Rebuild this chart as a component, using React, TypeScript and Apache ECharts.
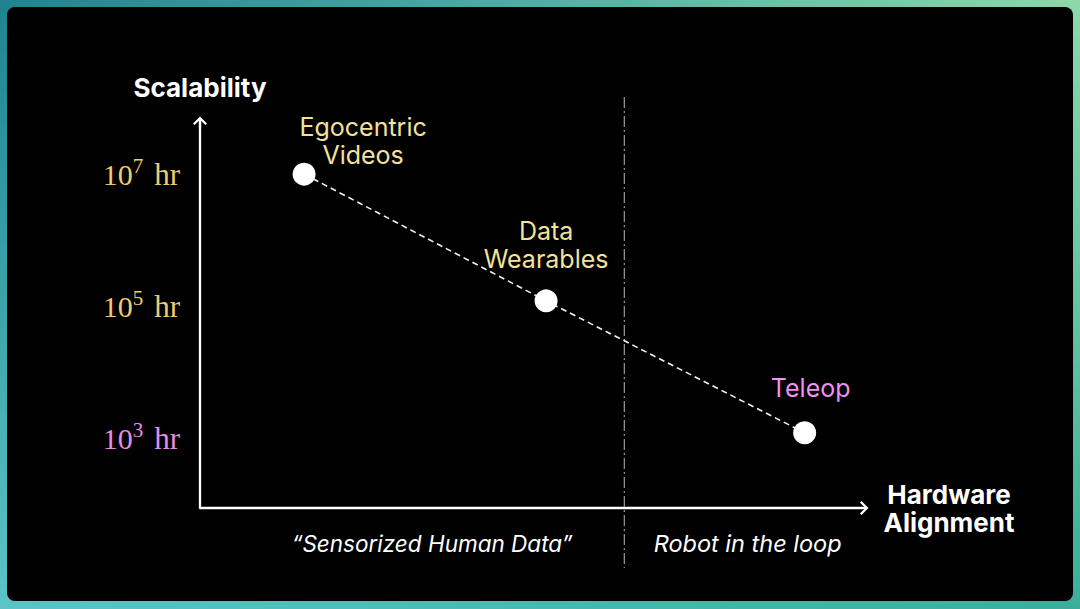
import React, { useEffect, useRef } from 'react';
import * as echarts from 'echarts';

// ---- data ----
const sources = ['Egocentric\nVideos', 'Data\nWearables', 'Teleop'];
const alignment = [15.7, 52.2, 91.2]; // hardware alignment (arbitrary units 0..100)
const hours = [1e7, 1.2e5, 1.2e3]; // scalability (hours of data)
const tickExponents = [3, 5, 7];
const tickUnit = 'hr';
const boundary = 64; // boundary between the two regimes on the alignment axis
const regions = ['\u201CSensorized Human Data\u201D', 'Robot in the loop'];
const regionCenters = [35, 82.6];
const yAxisName = 'Scalability';
const xAxisName = 'Hardware\nAlignment';

const ARROW = 'path://M7,0 L14,7 L12.4,8.6 L8.1,4.3 L8.1,11 L5.9,11 L5.9,4.3 L1.6,8.6 L0,7 Z';
const SANS = 'Inter, "Noto Sans", sans-serif';
const SERIF = '"Liberation Serif", "DejaVu Serif", serif';

export default function App() {
  const ref = useRef<HTMLDivElement>(null);

  useEffect(() => {
    document.body.style.margin = '0';
    if (!ref.current) return;
    const chart = echarts.init(ref.current, null, { renderer: 'svg' });

    const labelStyles = [
      { offset: [59, -33], color: '#f3e29a' },
      { offset: [0, -56], color: '#f3e29a' },
      { offset: [6, -45], color: '#ee92ee' },
    ];

    const axisLine = {
      show: true,
      onZero: false,
      symbol: ['none', ARROW],
      symbolSize: [14, 11],
      lineStyle: { color: '#ffffff', width: 2.3 },
    };

    const option: any = {
      animation: false,
      backgroundColor: 'transparent',
      grid: { left: 200, right: 217, top: 122, bottom: 101, outerBoundsMode: 'none' },
      xAxis: {
        type: 'value',
        min: 0,
        max: 100,
        name: xAxisName,
        nameLocation: 'end',
        nameGap: 86,
        nameMoveOverlap: false,
        nameTextStyle: {
          color: '#ffffff',
          fontFamily: SANS,
          fontWeight: 'bold',
          fontSize: 26,
          lineHeight: 28,
          align: 'center',
          verticalAlign: 'middle',
          padding: [7, 0, 0, 0],
        },
        axisLine,
        axisTick: { show: false },
        axisLabel: { show: false },
        splitLine: { show: false },
      },
      yAxis: {
        type: 'value',
        min: 1.94,
        max: 7.79,
        name: yAxisName,
        nameLocation: 'end',
        nameGap: 22,
        nameMoveOverlap: false,
        nameTextStyle: {
          color: '#ffffff',
          fontFamily: SANS,
          fontWeight: 'bold',
          fontSize: 26,
          align: 'center',
          verticalAlign: 'bottom',
        },
        axisLine,
        axisTick: { show: false },
        splitLine: { show: false },
        axisLabel: {
          show: true,
          customValues: tickExponents,
          margin: 20,
          formatter: (v: number) => {
            const c = v <= 3 ? 'p' : 'y';
            return `{${c}n|10}{${c}e|${v}}{${c}u|${tickUnit}}`;
          },
          rich: {
            yn: { color: '#f0cb6e', fontFamily: SERIF, fontSize: 30 },
            ye: { color: '#f0cb6e', fontFamily: SERIF, fontSize: 21, padding: [0, 11, 16, 0] },
            yu: { color: '#f0cb6e', fontFamily: SERIF, fontSize: 31 },
            pn: { color: '#e68ee2', fontFamily: SERIF, fontSize: 30 },
            pe: { color: '#e68ee2', fontFamily: SERIF, fontSize: 21, padding: [0, 11, 16, 0] },
            pu: { color: '#e68ee2', fontFamily: SERIF, fontSize: 31 },
          },
        },
      },
      series: [
        {
          type: 'line',
          data: alignment.map((x, i) => ({
            value: [x, Math.log10(hours[i])],
            name: sources[i],
            label: { offset: labelStyles[i].offset, color: labelStyles[i].color },
          })),
          symbol: 'circle',
          symbolSize: 23,
          itemStyle: { color: '#ffffff', borderWidth: 0 },
          lineStyle: { color: '#f2f2f2', width: 1.6, type: [6, 4] },
          label: {
            show: true,
            position: 'inside',
            formatter: '{b}',
            fontFamily: SANS,
            fontSize: 25,
            lineHeight: 28,
            align: 'center',
            verticalAlign: 'middle',
            textBorderWidth: 0,
          },
          emphasis: { disabled: true },
          z: 3,
        },
      ],
    };
    chart.setOption(option);

    const bx = chart.convertToPixel({ xAxisIndex: 0 }, boundary) as number;
    const graphics: any[] = [
      {
        type: 'line',
        shape: { x1: bx, y1: 97, x2: bx, y2: 568 },
        style: { stroke: '#9a9a9a', lineWidth: 1.2, lineDash: [11, 3, 2, 3] },
        silent: true,
        z: 1,
      },
    ];
    regions.forEach((t, i) => {
      const cx = chart.convertToPixel({ xAxisIndex: 0 }, regionCenters[i]) as number;
      graphics.push({
        type: 'text',
        x: cx,
        y: 543,
        silent: true,
        style: {
          text: t,
          fill: '#ffffff',
          font: `italic ${i === 0 ? 22.5 : 23.5}px ${SANS}`,
          align: 'center',
          verticalAlign: 'middle',
        },
      });
    });
    chart.setOption({ graphic: graphics });

    return () => chart.dispose();
  }, []);

  return (
    <div
      style={{
        position: 'relative',
        width: 1080,
        height: 609,
        overflow: 'hidden',
        background: 'linear-gradient(to right, #20848f 0%, #4fb0a6 50%, #8fd8a8 100%)',
      }}
    >
      <div
        style={{
          position: 'absolute',
          inset: 0,
          background: 'linear-gradient(to right, #5cc4c8 0%, #48b9b0 50%, #3aae9a 100%)',
          WebkitMaskImage: 'linear-gradient(to bottom, transparent 0%, black 100%)',
          maskImage: 'linear-gradient(to bottom, transparent 0%, black 100%)',
        }}
      />
      <div
        style={{
          position: 'absolute',
          left: 7,
          top: 7,
          width: 1066,
          height: 594,
          borderRadius: 8,
          background: '#000000',
        }}
      />
      <div ref={ref} style={{ position: 'absolute', left: 0, top: 0, width: 1080, height: 609 }} />
    </div>
  );
}
